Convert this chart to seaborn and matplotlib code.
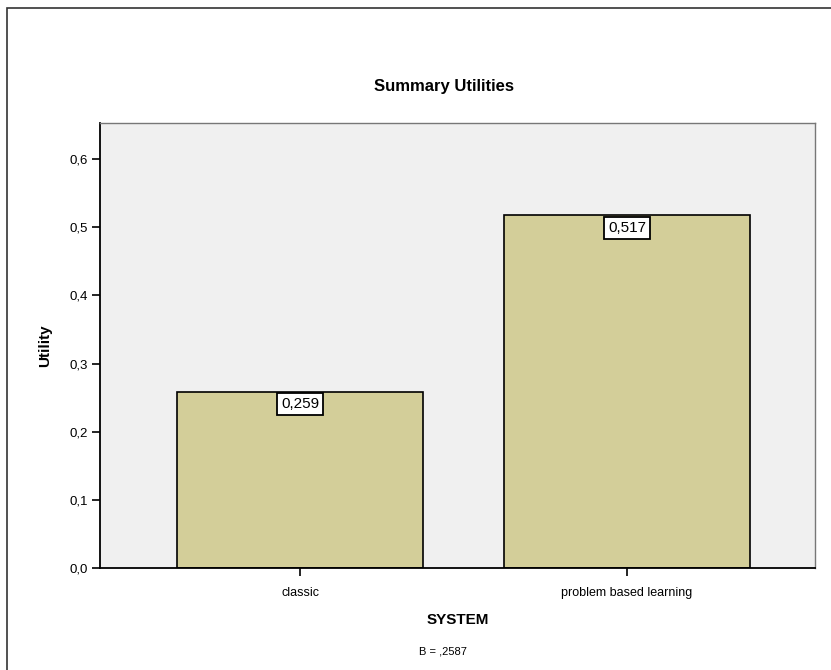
import seaborn as sns
import matplotlib.pyplot as plt
from matplotlib.patches import Rectangle
import pandas as pd

systems = ["classic", "problem based learning"]
utilities = [0.2587, 0.5174]
value_labels = ["0,259", "0,517"]
yticks = [0.0, 0.1, 0.2, 0.3, 0.4, 0.5, 0.6]
footnote = "B = ,2587"

df = pd.DataFrame({"SYSTEM": systems, "Utility": utilities})

sns.set_style("white")
plt.rcParams["font.family"] = ["Liberation Sans", "DejaVu Sans"]
plt.rcParams["text.color"] = "black"
plt.rcParams["axes.labelcolor"] = "black"
plt.rcParams["xtick.color"] = "black"
plt.rcParams["ytick.color"] = "black"

fig = plt.figure(figsize=(8.31, 6.70), dpi=100)
# outer chart frame (cropped at right and bottom)
fig.patches.append(Rectangle((7 / 831, -0.01), 1.0, 1 - 8 / 670 + 0.01, transform=fig.transFigure,
                             fill=False, edgecolor="#333333", linewidth=1.2))

ax = fig.add_axes([100 / 831, 1 - 568 / 670, 715 / 831, 445 / 670])
ax.set_facecolor("#F0F0F0")

sns.barplot(data=df, x="SYSTEM", y="Utility", ax=ax, color="#D3CE99", width=0.75,
            edgecolor="black", linewidth=1.2, saturation=1)

ax.set_xlim(-0.612, 1.575)
ax.set_ylim(0, 0.653)
ax.set_yticks(yticks)
ax.set_yticklabels([f"{t:.1f}".replace(".", ",") for t in yticks], fontsize=9.5)
ax.set_xticks(range(len(systems)))
ax.set_xticklabels(systems, fontsize=9)
ax.tick_params(axis="both", direction="out", length=6, width=1.2, color="black",
               left=True, bottom=True)
ax.tick_params(axis="x", pad=8)
ax.tick_params(axis="y", pad=3)

for side in ["left", "bottom"]:
    ax.spines[side].set_color("black")
    ax.spines[side].set_linewidth(1.3)
for side in ["top", "right"]:
    ax.spines[side].set_visible(True)
    ax.spines[side].set_color("#777777")
    ax.spines[side].set_linewidth(1.0)

for i, (v, lab) in enumerate(zip(utilities, value_labels)):
    ax.text(i, v - 0.008, lab, ha="center", va="top", fontsize=11,
            bbox=dict(boxstyle="square,pad=0.25", facecolor="white", edgecolor="black", linewidth=1.3))

ax.set_xlabel("SYSTEM", fontsize=11, fontweight="bold", labelpad=10)
ax.set_ylabel("Utility", fontsize=11, fontweight="bold", labelpad=12)

fig.text(444 / 831, 1 - 86 / 670, "Summary Utilities", ha="center", va="center",
         fontsize=12, fontweight="bold")
fig.text(443 / 831, 1 - 652 / 670, footnote, ha="center", va="center", fontsize=8)

plt.savefig("out.png", dpi=100)
